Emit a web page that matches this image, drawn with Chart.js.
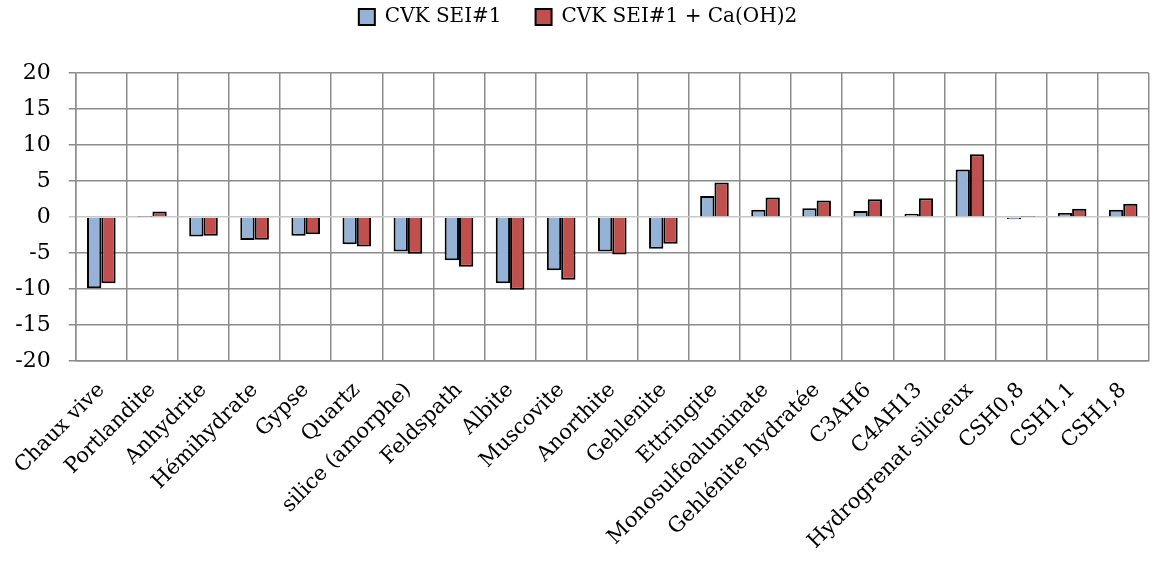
<!DOCTYPE html>
<html>
<head>
<meta charset="utf-8">
<script src="https://cdn.jsdelivr.net/npm/chart.js@4/dist/chart.umd.min.js"></script>
<style>
  html, body { margin: 0; padding: 0; background: #fff; }
  #wrap { width: 1158px; height: 564px; position: relative; }
</style>
</head>
<body>
<div id="wrap"><canvas id="chart"></canvas></div>
<script>
// Data
const categories = [
    "Chaux vive", "Portlandite", "Anhydrite", "Hémihydrate", "Gypse", "Quartz",
    "silice (amorphe)", "Feldspath", "Albite", "Muscovite", "Anorthite", "Gehlenite",
    "Ettringite", "Monosulfoaluminate", "Gehlénite hydratée", "C3AH6", "C4AH13",
    "Hydrogrenat siliceux", "CSH0,8", "CSH1,1", "CSH1,8"
];
const seriesNames = ["CVK SEI#1", "CVK SEI#1 + Ca(OH)2"];
const sei1 = [-9.9, 0.05, -2.7, -3.2, -2.6, -3.8, -4.8, -6.0, -9.2, -7.4, -4.8, -4.4,
              2.9, 1.0, 1.2, 0.85, 0.45, 6.6, -0.3, 0.55, 1.0];
const sei1CaOH = [-9.2, 0.75, -2.6, -3.15, -2.4, -4.1, -5.1, -6.9, -10.1, -8.7, -5.2, -3.7,
                  4.8, 2.7, 2.3, 2.45, 2.6, 8.7, 0.05, 1.15, 1.85];
const yTicks = { min: -20, max: 20, step: 5 };

const FONT = "'DejaVu Serif', 'Liberation Serif', serif";

// fixed legend band, legend drawn nearer the top edge
const legendBand = {
    id: 'legendBand',
    beforeInit(chart) {
        const fit = chart.legend.fit;
        chart.legend.fit = function () {
            fit.bind(chart.legend)();
            this.height = 73;
        };
    },
    beforeDraw(chart) {
        const lg = chart.legend;
        if (!lg._shifted) {
            lg.top -= 27;
            lg.bottom -= 27;
            lg._shifted = true;
        }
    },
    afterUpdate(chart) {
        chart.legend._shifted = false;
    }
};

function init() {
    const ctx = document.getElementById('chart').getContext('2d');
    new Chart(ctx, {
        type: 'bar',
        data: {
            labels: categories,
            datasets: [
                { label: seriesNames[0], data: sei1, backgroundColor: '#95b3d7', borderColor: '#000', borderWidth: 2 },
                { label: seriesNames[1], data: sei1CaOH, backgroundColor: '#c0504d', borderColor: '#000', borderWidth: 2 }
            ]
        },
        options: {
            responsive: true,
            maintainAspectRatio: false,
            animation: false,
            layout: { padding: { left: 0, right: 2, top: 0, bottom: 0 } },
            datasets: { bar: { categoryPercentage: 0.56, barPercentage: 1.0 } },
            plugins: {
                legend: {
                    position: 'top',
                    labels: {
                        font: { family: FONT, size: 20 },
                        color: '#000',
                        boxWidth: 16, boxHeight: 16,
                        padding: 34
                    }
                },
                tooltip: { enabled: false }
            },
            scales: {
                x: {
                    afterFit(scale) { scale.height = 203; },
                    grid: { color: '#8c8c8c', lineWidth: 1.5, offset: true, drawTicks: false },
                    border: { color: '#8c8c8c', width: 1.5 },
                    ticks: {
                        font: { family: FONT, size: 21 },
                        color: '#000',
                        minRotation: 45, maxRotation: 45,
                        autoSkip: false, padding: 17
                    }
                },
                y: {
                    min: yTicks.min, max: yTicks.max,
                    afterFit(scale) { scale.width = 73; },
                    grid: {
                        color: ctx => ctx.tick && ctx.tick.value === 0 ? '#c8c8c8' : '#8c8c8c',
                        lineWidth: 1.5, tickLength: 7
                    },
                    border: { color: '#8c8c8c', width: 1.5 },
                    ticks: {
                        stepSize: yTicks.step,
                        font: { family: FONT, size: 22 },
                        color: '#000',
                        padding: 18
                    }
                }
            }
        },
        plugins: [legendBand]
    });
}

window.onload = init;
</script>
</body>
</html>
